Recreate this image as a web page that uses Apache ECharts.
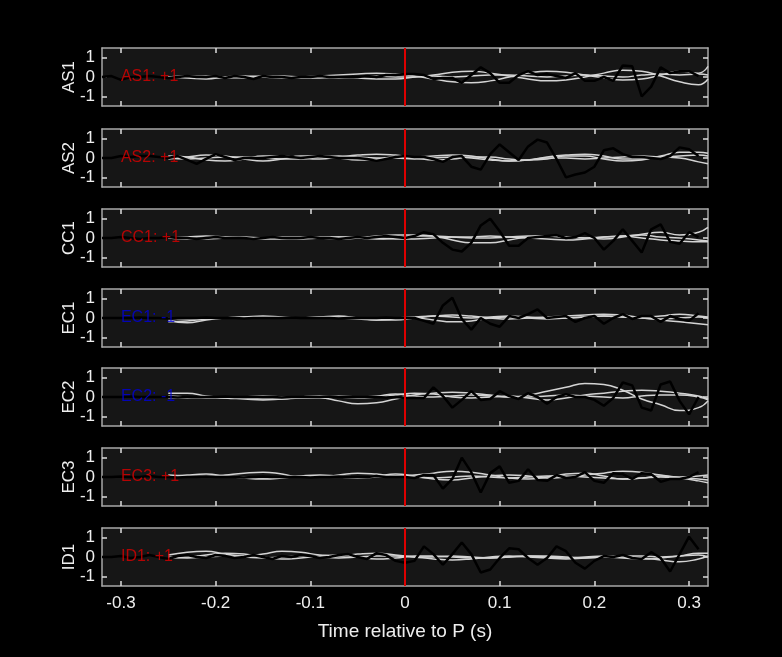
<!DOCTYPE html>
<html><head><meta charset="utf-8">
<script src="https://cdn.jsdelivr.net/npm/echarts@6/dist/echarts.min.js"></script>
<style>html,body{margin:0;padding:0;background:#000}#c{width:782px;height:657px}</style>
</head><body><div id="c"></div>
<script>
const stations = ['AS1','AS2','CC1','EC1','EC2','EC3','ID1'];
const labels = ['AS1: +1','AS2: +1','CC1: +1','EC1: -1','EC2: -1','EC3: +1','ID1: +1'];
const labelColors = ['#dd0000','#dd0000','#dd0000','#0000dd','#0000dd','#dd0000','#dd0000'];
const xTicks = [-0.3,-0.2,-0.1,0,0.1,0.2,0.3];
const xTickLabels = ['-0.3','-0.2','-0.1','0','0.1','0.2','0.3'];
const yTicks = [-1,0,1];
const blackT = [-0.32,-0.31,-0.30,-0.29,-0.28,-0.27,-0.26,-0.25,-0.24,-0.23,-0.22,-0.21,-0.20,-0.19,-0.18,-0.17,-0.16,-0.15,-0.14,-0.13,-0.12,-0.11,-0.10,-0.09,-0.08,-0.07,-0.06,-0.05,-0.04,-0.03,-0.02,-0.01,
0,0.01,0.02,0.03,0.04,0.05,0.06,0.07,0.08,0.09,0.10,0.11,0.12,0.13,0.14,0.15,0.16,0.17,0.18,0.19,0.20,0.21,0.22,0.23,0.24,0.25,0.26,0.27,0.28,0.29,0.30,0.31];
const blackAS1 = [0,0.05,-0.15,0,0,0.05,0,-0.05,0,0.05,0,0,0.05,-0.05,0.05,0,-0.1,0.05,0,0,-0.05,0,0,0.05,0,0,0,0,0.05,0,0.1,0.1,
0.15,0.15,0.1,-0.1,-0.05,-0.05,-0.3,0.1,0.5,0.2,-0.3,-0.3,0.1,0.3,0.1,0.15,0.05,-0.05,0.2,-0.2,-0.2,0,-0.2,0.6,0.55,-1.0,-0.5,0.5,0.2,0.3,0.3,0.05];
const blackAS2 = [0,0,0.1,0.05,0.1,0.1,0.05,0,0.1,-0.1,-0.3,-0.05,0.2,0.05,-0.1,0,0,0,0.05,0.1,0.05,0,0.05,0.1,0.05,0,0,0,-0.05,-0.15,-0.05,0.05,
0.1,0.05,0.05,-0.05,-0.2,0.05,0.1,-0.45,-0.6,0.2,0.7,0.3,-0.1,0.6,0.95,0.8,-0.05,-1.0,-0.85,-0.75,-0.45,0.4,0.5,0.2,0.05,0.05,0,-0.05,0.1,0.55,0.45,0.1];
const blackCC1 = [0,0,0.05,0,-0.05,0,0,0.05,0,0,-0.05,0,0.05,0,0,0,-0.05,0,0.05,0,0,0,0.05,0,0,-0.05,0,0.05,0,0.05,0.1,0.05,
0,0.1,0.3,0.2,-0.25,-0.6,-0.7,-0.25,0.65,1.0,0.35,-0.4,-0.4,0,0.05,0.1,0.15,0,0.05,0.25,0,-0.6,-0.15,0.45,-0.15,-0.75,0.45,0.7,-0.2,-0.3,0.3,0.05];
const blackEC1 = [0,0,0,0,0.02,0,0,-0.02,0,0,0,0.02,0,0,0,-0.02,0,0,0,0,0.02,0,0,0,0,-0.02,0,0,0,0,0.02,0,
0,0,-0.15,-0.3,0.65,1.05,-0.05,-0.6,0,-0.3,-0.45,0.1,0,0.2,0.45,0,0.05,0.1,-0.2,0,0.1,-0.3,0,0.2,-0.05,0.1,0.1,-0.2,0.1,-0.05,-0.15,0.25];
const blackEC2 = [0,0,0,0.02,0,0,0,0,-0.02,0,0,0,0,0.02,0,0,0,0,0,-0.02,0,0,0,0,0.02,0,0,0,0,0,-0.02,0,
-0.05,-0.05,-0.05,0.5,0.05,-0.55,-0.15,0.3,-0.15,-0.1,0.3,0.05,-0.1,0.2,0,-0.35,0,0.15,0,0,-0.15,-0.45,-0.05,0.75,0.6,-0.55,-0.7,0.65,0.8,-0.2,-0.9,0];
const blackEC3 = [0,0,0.02,0,0,0.05,0,0,-0.03,0,0,0.03,0,0,0,-0.03,0,0.03,0,0,0,0,-0.03,0,0,0.03,0,0,0,0.05,0,0,
0,-0.05,0.1,0.1,-0.6,-0.1,1.0,0.25,-0.8,0.2,0.55,-0.3,-0.2,0.4,-0.15,-0.2,0.1,-0.05,0,0.25,-0.2,-0.3,0.2,0.15,-0.1,0.2,0.15,-0.25,-0.1,-0.1,0,0.25];
const blackID1 = [0,0,0.05,-0.05,0,0.1,0,-0.1,0.05,0.1,0,-0.05,0.1,0.05,-0.05,0,0.1,0,-0.1,0.05,0,0.1,0.05,-0.05,0,0.1,0.15,0,-0.1,0.2,0.1,-0.2,
-0.3,-0.2,0.55,0.15,-0.4,0.15,0.75,0.15,-0.8,-0.65,-0.05,0.45,0.4,-0.05,-0.4,-0.05,0.55,0.3,-0.3,-0.6,-0.2,0.05,0,0.1,-0.05,-0.1,0.25,-0.05,-0.75,0.15,1.05,0.4];
const grayT = [-0.25,-0.23,-0.21,-0.19,-0.17,-0.15,-0.13,-0.11,-0.09,-0.07,-0.05,-0.03,-0.01,0.01,0.03,0.05,0.07,0.09,0.11,0.13,0.15,0.17,0.19,0.21,0.23,0.25,0.27,0.29,0.31,0.32];
const grayAS1a = [0,-0.05,-0.1,0,0.05,0,-0.05,0,0.05,0.1,0.15,0.2,0.15,0.05,-0.1,-0.25,-0.3,-0.2,0,0.2,0.3,0.25,0.1,-0.05,-0.15,-0.1,0.1,0.3,0.2,0.55];
const grayAS1b = [0,0.05,0,-0.05,0,0.05,0,-0.05,-0.05,0,-0.05,-0.1,-0.1,0,0.1,0.25,0.3,0.2,0.05,-0.1,-0.2,-0.15,0,0.2,0.35,0.3,0.05,-0.25,-0.4,-0.1];
const grayAS1c = [0,0,0.05,0,-0.05,0,0.05,0,0,-0.05,0,0.05,0,0,0.05,0,0.05,0.1,0.1,0.05,0,0.05,0.1,0.05,0,0.1,0.15,0.1,0.15,0.1];
const grayAS2a = [0.1,0.05,-0.1,-0.15,-0.05,0.1,0.1,0,-0.05,0.05,0.15,0.2,0.15,0.05,0.1,0.15,0.1,-0.05,-0.15,-0.1,0.05,0.15,0.2,0.1,-0.05,-0.05,0.1,0.3,0.3,0.25];
const grayAS2b = [-0.05,0.05,0.15,0.1,-0.05,-0.15,-0.05,0.1,0.1,0,-0.1,-0.05,0.05,0,-0.1,-0.05,0.05,0.05,-0.05,-0.1,-0.05,0.1,0.1,-0.05,-0.15,-0.1,0.05,0,-0.2,-0.3];
const grayAS2c = [0,-0.05,0,0.05,0.05,0,-0.05,-0.05,0.05,0.1,0.05,0,0,-0.05,0,0.05,0,-0.1,-0.15,-0.1,0,0,-0.05,0,0.05,0.1,0.05,0.1,0.15,0.1];
const grayCC1a = [0,0.05,0.1,0.05,0,0,0.05,0.05,0,-0.05,0,0.1,0.15,0.15,0.1,-0.1,-0.25,-0.25,-0.1,0.05,0.1,0.05,0,-0.05,0.05,0.2,0.3,0.15,0.3,0.55];
const grayCC1b = [0,-0.05,0,0.05,0,-0.05,-0.05,0,0.05,0.05,0,-0.05,0,0.1,0.1,0.05,0,0,0.05,0.1,0.1,0.05,0,0.05,0.1,0,-0.1,-0.15,-0.2,-0.2];
const grayCC1c = [0,0,-0.05,0,0.05,0,0,-0.05,0,0.05,0.05,0,-0.05,-0.05,0,0.05,0.05,0.1,0.05,0,-0.05,-0.1,-0.05,0.05,0.1,0.15,0.05,0,-0.1,-0.15];
const grayEC1a = [-0.1,-0.25,-0.1,0,0.05,0.1,0.05,0,0.05,0.1,0,-0.1,-0.1,0,0.1,0.15,0.1,0,-0.05,0,0.05,0.1,0.15,0.2,0.15,0.05,0.1,0.2,0.1,0.05];
const grayEC1b = [-0.2,-0.15,-0.05,0,0,0,0,0,0,0,-0.05,-0.1,-0.05,0,-0.1,-0.2,-0.15,0,0.05,0,-0.05,0,0.05,0.1,0.05,0,-0.1,-0.2,-0.3,-0.35];
const grayEC1c = [0,-0.05,-0.05,0,0.05,0.05,0,0,0.05,0.05,0,-0.05,0,0.05,0.1,0.05,0,0.05,0.1,0.05,0,0,0.05,0.1,0.05,0,-0.05,0,0.05,0];
const grayEC2a = [0.2,0.2,0.05,-0.05,-0.1,-0.15,-0.1,-0.05,-0.05,-0.2,-0.35,-0.3,-0.1,0.1,0.2,0.25,0.2,0.1,0,0.1,0.3,0.5,0.7,0.65,0.35,-0.1,-0.4,-0.7,-0.55,-0.2];
const grayEC2b = [-0.05,-0.05,0,0,-0.05,-0.1,-0.1,0,0.05,0,-0.05,0,0.1,0.2,0.15,0,-0.05,0,0.05,-0.05,-0.15,-0.05,0.1,0.2,0.3,0.35,0.3,0.2,0.05,-0.1];
const grayEC2c = [0.05,0,-0.05,-0.05,0,0.05,0,-0.05,0,0.05,0,0.05,0.15,0.05,0,0.05,0.1,0.05,0,0,0.05,0.1,0.05,0,-0.05,0.05,0.1,0.1,0,-0.15];
const grayEC3a = [0.1,0.05,0,0.1,0.2,0.25,0.15,0,0,0.1,0.2,0.15,0.05,0.1,0.2,0.3,0.25,0.1,-0.05,-0.1,0,0.15,0.2,0.05,-0.1,-0.05,0.05,-0.05,-0.2,-0.3];
const grayEC3b = [0,0.1,0.15,0.05,-0.05,-0.1,-0.05,0.05,0.1,0.05,0,0.05,0.15,0.05,-0.1,-0.15,-0.05,0.05,0.1,0.05,-0.05,0,0.1,0.2,0.3,0.25,0.1,0,0.05,0.1];
const grayEC3c = [0,0,0.05,0.05,0,-0.05,0,0.05,0.05,0,-0.05,0,0.05,0,-0.05,0,0.05,0,-0.05,0,0.05,0.05,0,-0.05,-0.1,-0.05,0,-0.05,-0.1,-0.15];
const grayID1a = [0.1,0.25,0.3,0.15,0.05,0.15,0.3,0.25,0.1,0.05,0.15,0.2,0.1,0,-0.1,-0.15,-0.1,0,0.05,0,-0.05,-0.1,-0.05,0,-0.05,-0.1,-0.05,0.05,0.2,0.2];
const grayID1b = [-0.05,0,0.1,0.2,0.15,0,-0.1,-0.05,0.05,0.1,0,-0.1,-0.05,0.05,0.05,0,-0.05,-0.05,0,0.05,0,-0.05,0,0.05,0,-0.05,-0.15,-0.25,-0.1,0.05];
const grayID1c = [0,-0.05,0,0.05,0,-0.05,0,0.05,0,-0.05,0,0.05,0.05,0,0,0.05,0,-0.05,0,0.05,0.05,0,-0.05,0,0.05,0.05,0,0.05,0.1,0];
const blackAll = [blackAS1,blackAS2,blackCC1,blackEC1,blackEC2,blackEC3,blackID1];
const grayAll = [[grayAS1a,grayAS1b,grayAS1c],[grayAS2a,grayAS2b,grayAS2c],[grayCC1a,grayCC1b,grayCC1c],[grayEC1a,grayEC1b,grayEC1c],[grayEC2a,grayEC2b,grayEC2c],[grayEC3a,grayEC3b,grayEC3c],[grayID1a,grayID1b,grayID1c]];

const tops = [48,129,209,289,368,448,528];
const FONT = 'Liberation Sans, Arial, sans-serif';
const axisCol = '#a8a8a8';
const grid=[], xAxis=[], yAxis=[], series=[];
stations.forEach((st,i)=>{
  grid.push({left:102,width:606,top:tops[i],height:58,show:true,backgroundColor:'#161616',borderWidth:0});
  const last = i===stations.length-1;
  const xa = {type:'value',gridIndex:i,min:-0.32,max:0.32,
    axisLine:{show:true,onZero:false,lineStyle:{color:axisCol,width:1.5}},
    axisTick:{show:true,inside:true,length:5,customValues:xTicks,lineStyle:{color:'#ddd',width:1.5}},
    splitLine:{show:false},
    axisLabel:{show:false}};
  xAxis.push(Object.assign({},xa,{position:'bottom',
    name: last?'Time relative to P (s)':'', nameLocation:'middle', nameGap:36,
    nameTextStyle:{color:'#eee',fontSize:19,fontFamily:FONT},
    axisLabel:{show:last,customValues:xTicks,color:'#eee',fontSize:17,fontFamily:FONT,margin:9,
      formatter:v=>xTickLabels[xTicks.findIndex(t=>Math.abs(t-v)<1e-6)] ?? ''}}));
  xAxis.push(Object.assign({},xa,{position:'top'}));
  const ya = {type:'value',gridIndex:i,min:-1.5,max:1.5,
    axisLine:{show:true,onZero:false,lineStyle:{color:axisCol,width:1.5}},
    axisTick:{show:true,inside:true,length:5,customValues:yTicks,lineStyle:{color:'#ddd',width:1.5}},
    splitLine:{show:false},axisLabel:{show:false}};
  yAxis.push(Object.assign({},ya,{position:'left',name:st,nameLocation:'middle',nameGap:24,nameRotate:90,
    nameMoveOverlap:false,
    nameTextStyle:{color:'#eee',fontSize:17,fontFamily:FONT},
    axisLabel:{show:true,customValues:yTicks,color:'#eee',fontSize:17,fontFamily:FONT,margin:7}}));
  yAxis.push(Object.assign({},ya,{position:'right'}));
  const xi=2*i, yi=2*i;
  series.push({type:'line',xAxisIndex:xi,yAxisIndex:yi,data:[],z:1,silent:true,
    markLine:{silent:true,symbol:'none',label:{show:false},lineStyle:{color:'#dd0000',width:2,type:'solid'},data:[{xAxis:0}]}});
  grayAll[i].forEach(g=>{
    series.push({type:'line',xAxisIndex:xi,yAxisIndex:yi,smooth:0.5,showSymbol:false,z:2,
      lineStyle:{color:'#d4d4d4',width:1.5},data:grayT.map((t,k)=>[t,g[k]])});
  });
  series.push({type:'line',xAxisIndex:xi,yAxisIndex:yi,showSymbol:false,z:3,
    lineStyle:{color:'#000',width:2.5},data:blackT.map((t,k)=>[t,blackAll[i][k]])});
  series.push({type:'scatter',xAxisIndex:xi,yAxisIndex:yi,symbolSize:0,z:4,silent:true,
    data:[[-0.3,0]],label:{show:true,position:'right',distance:0,formatter:labels[i],
      color:labelColors[i],fontSize:16,fontFamily:FONT}});
});
const chart = echarts.init(document.getElementById('c'));
chart.setOption({backgroundColor:'#000',animation:false,grid,xAxis,yAxis,series});
</script></body></html>
